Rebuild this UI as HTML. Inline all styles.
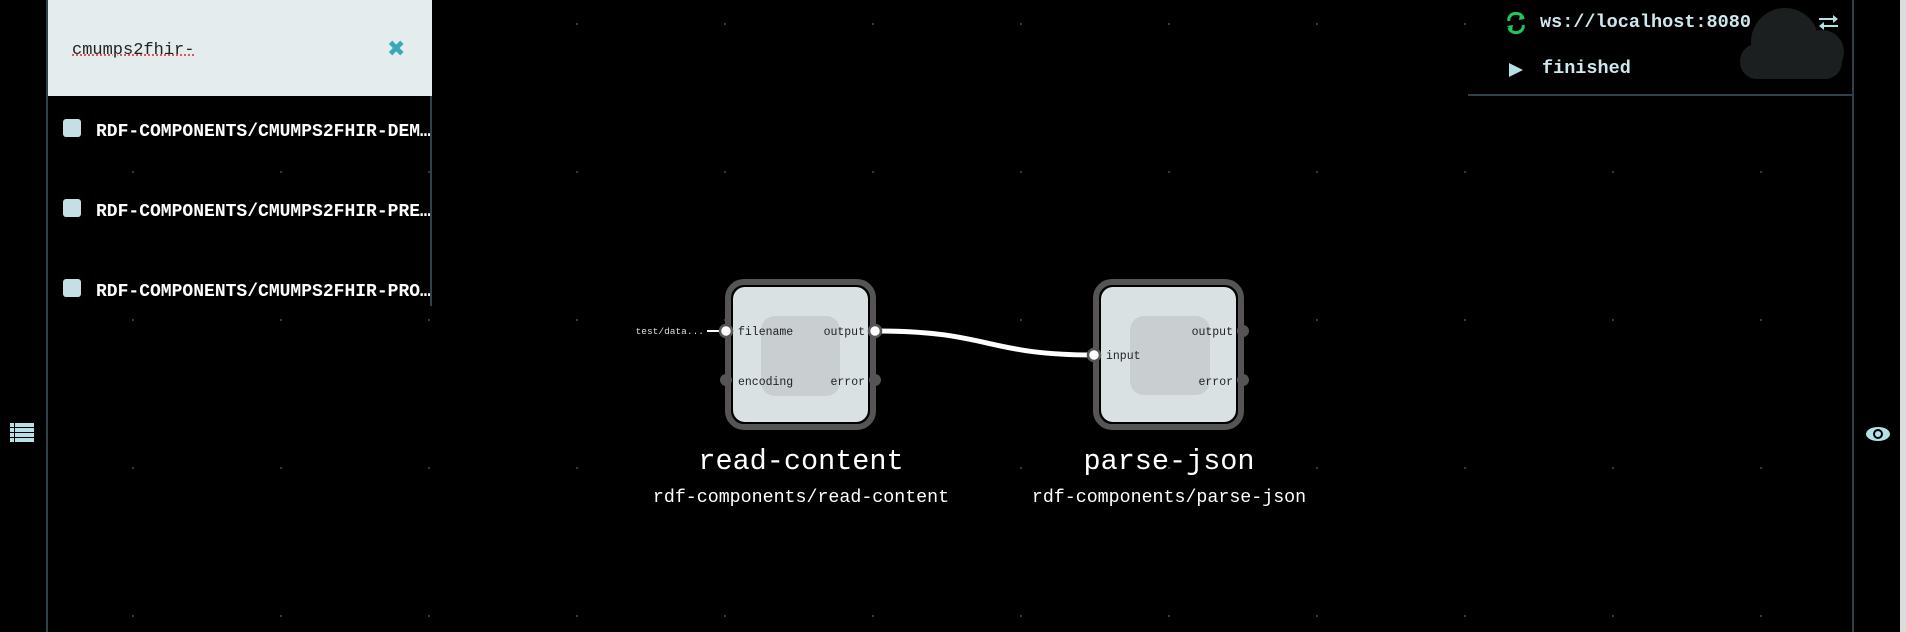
<!DOCTYPE html>
<html><head><meta charset="utf-8"><style>
body{margin:0;width:1906px;height:632px;background:#000;overflow:hidden;position:relative;font-family:"Liberation Mono",monospace}
.a{position:absolute}
</style></head><body>
<svg class="a" style="left:0;top:0" width="1906" height="632">
<defs><pattern id="p" x="132" y="23" width="148" height="148" patternUnits="userSpaceOnUse"><rect x="0" y="0" width="2" height="2" fill="#3a3a3a"/></pattern></defs>
<rect width="1906" height="632" fill="url(#p)"/>
<path d="M877 331 C 990 331, 985 355, 1094 355" stroke="#fff" stroke-width="5" fill="none"/>
<line x1="707" y1="331" x2="726" y2="331" stroke="#fff" stroke-width="2"/>
<rect x="728" y="282" width="145" height="145" rx="16" fill="#000" stroke="#555" stroke-width="6"/>
<rect x="733" y="287" width="135" height="135" rx="12" fill="#dae1e3"/>
<rect x="761" y="316" width="79" height="80" rx="14" fill="#c9ced1"/>
<circle cx="726" cy="380" r="6" fill="#555"/><circle cx="875" cy="380" r="6" fill="#555"/>
<circle cx="726" cy="331" r="6" fill="#fff" stroke="#555" stroke-width="2.5"/>
<circle cx="875" cy="331" r="6" fill="#fff" stroke="#555" stroke-width="2.5"/>
<rect x="1096" y="282" width="145" height="145" rx="16" fill="#000" stroke="#555" stroke-width="6"/>
<rect x="1101" y="287" width="135" height="135" rx="12" fill="#dae1e3"/>
<rect x="1130" y="316" width="80" height="79" rx="14" fill="#c9ced1"/>
<circle cx="1243" cy="331" r="6" fill="#555"/><circle cx="1243" cy="380" r="6" fill="#555"/>
<circle cx="1094" cy="355" r="6" fill="#fff" stroke="#555" stroke-width="2.5"/>
<g font-family="Liberation Mono, monospace" font-size="11.5" fill="#222">
<text x="738" y="335">filename</text><text x="738" y="385">encoding</text>
<text x="865" y="335" text-anchor="end">output</text><text x="865" y="385" text-anchor="end">error</text>
<text x="1106" y="359">input</text>
<text x="1233" y="335" text-anchor="end">output</text><text x="1233" y="385" text-anchor="end">error</text>
</g>
<text x="704" y="334" font-size="9.5" fill="#ddd" text-anchor="end" font-family="Liberation Mono, monospace">test/data...</text>
<g fill="#fff" text-anchor="middle" font-family="Liberation Mono, monospace">
<text x="801" y="469" font-size="28.5">read-content</text>
<text x="1169" y="469" font-size="28.5">parse-json</text>
<text x="801" y="502" font-size="18.3">rdf-components/read-content</text>
<text x="1169" y="502" font-size="18.3">rdf-components/parse-json</text>
</g>
<rect x="46" y="0" width="2" height="632" fill="#2d4248"/>
<rect x="430" y="96" width="2" height="210" fill="#2d4248"/>
<g fill="#b5e0e6"><rect x="10" y="423" width="24" height="4"/><rect x="10" y="428" width="24" height="4"/><rect x="10" y="433" width="24" height="4"/><rect x="10" y="438" width="24" height="4"/></g>
<g fill="#000"><rect x="14" y="423" width="1" height="19"/></g>
<rect x="1852" y="0" width="2" height="632" fill="#2d4248"/>
<rect x="1468" y="94" width="385" height="2" fill="#2d4248"/>
<rect x="1900" y="0" width="6" height="632" fill="#ddd"/>
<circle cx="1785" cy="42" r="34" fill="#1b1f20"/>
<circle cx="1822" cy="52" r="22" fill="#1b1f20"/>
<rect x="1740" y="44" width="102" height="35" rx="17" fill="#1b1f20"/>
<path d="M1509 63 L1523 70 L1509 77 Z" fill="#b5e0e6"/>
<g stroke="#22c55e" stroke-width="3" fill="none"><path d="M1509 21 A7 6 0 0 1 1523 18"/><path d="M1523 25 A7 6 0 0 1 1509 28"/></g>
<path d="M1520 14 L1525 19 L1519 20 Z M1512 31 L1507 26 L1513 25Z" fill="#22c55e"/>
<g stroke="#b5e0e6" stroke-width="2" fill="#b5e0e6"><line x1="1819" y1="19" x2="1836" y2="19"/><line x1="1821" y1="26" x2="1838" y2="26"/></g>
<path d="M1838 19 L1833 15 L1833 23Z M1819 26 L1824 22 L1824 30Z" fill="#b5e0e6"/>
<ellipse cx="1878" cy="434" rx="12" ry="7" fill="#b5e0e6"/><circle cx="1878" cy="434" r="5" fill="#000"/><circle cx="1878" cy="434" r="3" fill="#b5e0e6"/>
</svg>
<div class="a" style="left:48px;top:0;width:384px;height:96px;background:#e4ecee"></div>
<div class="a" style="left:72px;top:41px;font-size:17px;color:#222;text-decoration:underline dotted #e04040;">cmumps2fhir-</div>
<div class="a" style="left:387px;top:37px;font-size:22px;color:#3aa8b8;font-weight:bold;font-family:'DejaVu Sans',sans-serif">✖</div>
<div class="a" style="left:48px;top:96px;width:382px;height:210px;overflow:hidden;color:#fff;font-weight:bold;font-size:18px">
<div class="a" style="left:15px;top:23px;width:18px;height:18px;background:#c4e0e4;border-radius:3px"></div>
<div class="a" style="left:48px;top:26px;white-space:nowrap">RDF-COMPONENTS/CMUMPS2FHIR-DEM…</div>
<div class="a" style="left:15px;top:103px;width:18px;height:18px;background:#c4e0e4;border-radius:3px"></div>
<div class="a" style="left:48px;top:106px;white-space:nowrap">RDF-COMPONENTS/CMUMPS2FHIR-PRE…</div>
<div class="a" style="left:15px;top:183px;width:18px;height:18px;background:#c4e0e4;border-radius:3px"></div>
<div class="a" style="left:48px;top:186px;white-space:nowrap">RDF-COMPONENTS/CMUMPS2FHIR-PRO…</div>
</div>
<div class="a" style="left:1540px;top:12px;font-size:18.5px;font-weight:bold;color:#cfe8ee;white-space:nowrap">ws://localhost:8080</div>
<div class="a" style="left:1542px;top:58px;font-size:18.5px;font-weight:bold;color:#cfe8ee">finished</div>
</body></html>
